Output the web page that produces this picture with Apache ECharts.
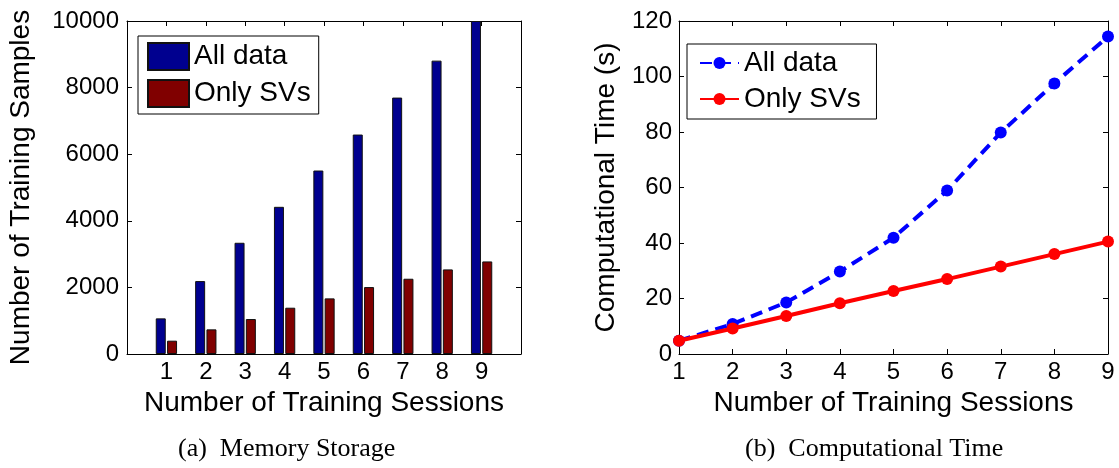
<!DOCTYPE html>
<html>
<head>
<meta charset="utf-8">
<script src="https://cdn.jsdelivr.net/npm/echarts@6.0.0/dist/echarts.min.js"></script>
<style>
  html, body { margin: 0; padding: 0; background: #fff; }
  #chart { width: 1119px; height: 468px; }
</style>
</head>
<body>
<div id="chart"></div>
<script>
// data
const sessions = [1, 2, 3, 4, 5, 6, 7, 8, 9]
const memAllData = [1070, 2190, 3340, 4420, 5510, 6590, 7700, 8810, 10000]
const memOnlySVs = [400, 740, 1050, 1390, 1670, 2010, 2260, 2540, 2780]
const timeAllData = [4.8, 10.8, 18.6, 29.7, 41.9, 58.9, 79.8, 97.5, 114.4]
const timeOnlySVs = [4.8, 9.2, 13.7, 18.3, 22.7, 27.0, 31.5, 36.0, 40.5]

const font = "'Liberation Sans', Arial, sans-serif"
const serif = "'Liberation Serif', 'Times New Roman', serif"

const chart = echarts.init(document.getElementById('chart'), null, { renderer: 'canvas' })

// box axis: line + inward ticks, no labels, no grid lines
function boxAxis(extra) {
  return Object.assign({
    axisLine: { show: true, onZero: false, lineStyle: { color: '#000', width: 1 } },
    axisTick: { show: true, inside: true, length: 5, lineStyle: { color: '#000' } },
    axisLabel: { show: false },
    splitLine: { show: false }
  }, extra)
}

const labelStyle = { color: '#000', fontFamily: font, fontSize: 24 }
const nameStyle = { color: '#000', fontFamily: font, fontSize: 28 }
const plain = v => String(v)

const pair = (xs, ys) => xs.map((x, i) => [x, ys[i]])

chart.setOption({
  animation: false,
  backgroundColor: '#fff',
  grid: [
    { left: 127, right: 598, top: 21, bottom: 114 },
    { left: 679, right: 11, top: 21, bottom: 114 }
  ],
  xAxis: [
    boxAxis({
      gridIndex: 0, type: 'value', min: 0, max: 10, interval: 1, position: 'bottom',
      axisTick: { show: false },
      axisLabel: Object.assign({ show: true, margin: 6, formatter: v => (v >= 1 && v <= 9 ? String(v) : '') }, labelStyle),
      name: 'Number of Training Sessions', nameLocation: 'middle', nameGap: 34, nameTextStyle: nameStyle
    }),
    boxAxis({ gridIndex: 0, type: 'value', min: 0, max: 10, interval: 1, position: 'top' }),
    boxAxis({
      gridIndex: 1, type: 'value', min: 1, max: 9, interval: 1, position: 'bottom',
      axisLabel: Object.assign({ show: true, margin: 6, formatter: plain }, labelStyle),
      name: 'Number of Training Sessions', nameLocation: 'middle', nameGap: 34, nameTextStyle: nameStyle
    }),
    boxAxis({ gridIndex: 1, type: 'value', min: 1, max: 9, interval: 1, position: 'top' })
  ],
  yAxis: [
    boxAxis({
      gridIndex: 0, type: 'value', min: 0, max: 10000, interval: 2000, position: 'left',
      axisLabel: Object.assign({ show: true, margin: 8, formatter: plain }, labelStyle),
      name: 'Number of Training Samples', nameLocation: 'middle', nameGap: 92, nameTextStyle: nameStyle
    }),
    boxAxis({ gridIndex: 0, type: 'value', min: 0, max: 10000, interval: 2000, position: 'right' }),
    boxAxis({
      gridIndex: 1, type: 'value', min: 0, max: 120, interval: 20, position: 'left',
      axisLabel: Object.assign({ show: true, margin: 7, formatter: plain }, labelStyle),
      name: 'Computational Time (s)', nameLocation: 'middle', nameGap: 59, nameTextStyle: nameStyle
    }),
    boxAxis({ gridIndex: 1, type: 'value', min: 0, max: 120, interval: 20, position: 'right' })
  ],
  legend: [
    {
      left: 138, top: 36, orient: 'vertical',
      data: ['All data', 'Only SVs'].map(n => ({ name: n, icon: 'rect' })),
      itemWidth: 41, itemHeight: 27, itemGap: 8,
      padding: [6, 8, 6, 9],
      borderColor: '#000', borderWidth: 1, backgroundColor: '#fff',
      textStyle: { color: '#000', fontFamily: font, fontSize: 28 }
    },
    {
      left: 687, top: 44, orient: 'vertical',
      data: ['All data ', 'Only SVs '],
      itemWidth: 39, itemHeight: 15, itemGap: 8,
      padding: [5, 8, 6, 12],
      borderColor: '#000', borderWidth: 1, backgroundColor: '#fff',
      textStyle: { color: '#000', fontFamily: font, fontSize: 28 }
    }
  ],
  graphic: [
    { type: 'text', left: 178, top: 436, style: { text: '(a)  Memory Storage', font: '26px ' + serif, fill: '#000' } },
    { type: 'text', left: 745, top: 436, style: { text: '(b)  Computational Time', font: '26px ' + serif, fill: '#000' } }
  ],
  series: [
    {
      name: 'All data', type: 'bar', xAxisIndex: 0, yAxisIndex: 0,
      data: pair(sessions, memAllData),
      barWidth: 10, barGap: '13%',
      itemStyle: { color: '#00008F', borderColor: '#111', borderWidth: 1 }
    },
    {
      name: 'Only SVs', type: 'bar', xAxisIndex: 0, yAxisIndex: 0,
      data: pair(sessions, memOnlySVs),
      barWidth: 10, barGap: '13%',
      itemStyle: { color: '#800000', borderColor: '#111', borderWidth: 1 }
    },
    // right panel uses trailing-space names so its legend stays separate
    {
      name: 'All data ', type: 'line', xAxisIndex: 2, yAxisIndex: 2,
      data: pair(sessions, timeAllData),
      symbol: 'circle', symbolSize: 12, z: 3,
      lineStyle: { color: '#0000FF', width: 4, type: [12, 7] },
      itemStyle: { color: '#0000FF' }
    },
    {
      name: 'Only SVs ', type: 'line', xAxisIndex: 2, yAxisIndex: 2,
      data: pair(sessions, timeOnlySVs),
      symbol: 'circle', symbolSize: 12, z: 4,
      lineStyle: { color: '#FF0000', width: 4 },
      itemStyle: { color: '#FF0000' }
    }
  ]
})
</script>
</body>
</html>
